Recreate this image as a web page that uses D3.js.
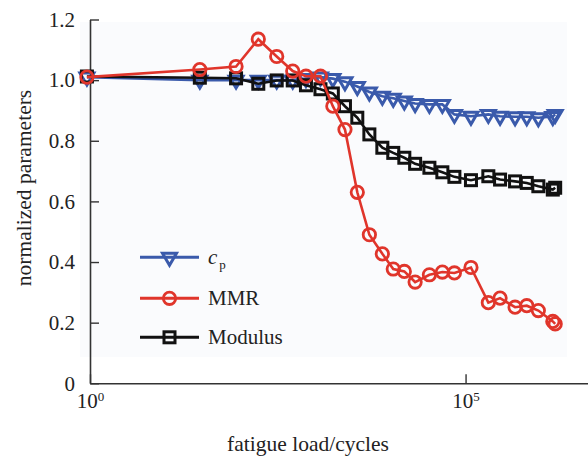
<!DOCTYPE html>
<html>
<head>
<meta charset="utf-8">
<script src="https://cdn.jsdelivr.net/npm/d3@7"></script>
<style>
  body { margin: 0; background: #fff; }
  svg { font-family: "Liberation Serif", "Times New Roman", serif; }
</style>
</head>
<body>
<div id="chart"></div>
<script>
// data (cycles, normalized values)
let cycles = [0.91, 29, 88, 174, 306, 500, 750, 1170, 1710, 2480, 3620, 5240, 7800, 10900,
    15300, 21300, 33000, 49100, 71000, 118000, 201000, 288000, 456000, 653000, 931000, 1450000, 1560000];
let cpValues = [1.01, 1.0, 1.0, 1.0, 1.0, 1.0, 1.005, 1.01, 1.005, 0.995, 0.979, 0.961, 0.947, 0.94,
    0.931, 0.923, 0.92, 0.92, 0.887, 0.881, 0.887, 0.881, 0.879, 0.879, 0.876, 0.88, 0.887];
let mmrValues = [1.01, 1.035, 1.045, 1.135, 1.078, 1.03, 1.013, 1.013, 0.914, 0.837, 0.63, 0.49, 0.427, 0.377,
    0.369, 0.334, 0.358, 0.367, 0.364, 0.382, 0.266, 0.281, 0.251, 0.256, 0.24, 0.204, 0.196];
let modulusValues = [1.012, 1.008, 1.006, 0.988, 0.999, 0.999, 0.983, 0.97, 0.956, 0.914, 0.876, 0.821, 0.777, 0.76,
    0.744, 0.724, 0.711, 0.696, 0.681, 0.67, 0.683, 0.672, 0.666, 0.661, 0.65, 0.639, 0.645];
let yTicks = [0, 0.2, 0.4, 0.6, 0.8, 1.0, 1.2];
let xTicks = [1, 1e5];
let xTickExp = ["0", "5"];
let seriesNames = ["cp", "MMR", "Modulus"];

let width = 588, height = 459;
let colors = {cp: "#3a5aab", MMR: "#e0352b", Modulus: "#111111"};

let svg = d3.select("#chart").append("svg")
    .attr("width", width)
    .attr("height", height);

let x = d3.scaleLog()
    .domain([1, Math.pow(10, 6.63)])
    .range([90, 588]);

let y = d3.scaleLinear()
    .domain([0, 1.2])
    .range([383.3, 19.5]);

// faint plot panel
svg.append("rect")
    .attr("x", 80).attr("y", 22)
    .attr("width", 487).attr("height", 335)
    .attr("fill", "#fafbfd");

// axes
let yAxis = svg.append("g")
    .attr("transform", "translate(" + x(1) + ",0)")
    .call(d3.axisLeft(y)
        .tickValues(yTicks)
        .tickSizeInner(-9)
        .tickSizeOuter(0)
        .tickPadding(15)
        .tickFormat(d => d === 0 ? "0" : d3.format(".1f")(d)));

let xAxis = svg.append("g")
    .attr("transform", "translate(0," + y(0) + ")")
    .call(d3.axisBottom(x)
        .tickValues(xTicks)
        .tickSizeInner(-9)
        .tickSizeOuter(0)
        .tickFormat(""));

[yAxis, xAxis].forEach(function(g) {
    g.select(".domain").attr("stroke", "#333").attr("stroke-width", 1.6);
    g.selectAll(".tick line").attr("stroke", "#333").attr("stroke-width", 1.4);
});
yAxis.selectAll(".tick text")
    .attr("font-size", 21)
    .attr("fill", "#222")
    .attr("font-family", "Liberation Serif, serif");

// x tick labels as 10 with superscript exponent
xAxis.selectAll(".tick").each(function(d, i) {
    let t = d3.select(this).append("text")
        .attr("y", 25)
        .attr("dy", 0)
        .attr("fill", "#222")
        .attr("text-anchor", "middle")
        .attr("font-family", "Liberation Serif, serif")
        .attr("font-size", 21);
    t.append("tspan").text("10");
    t.append("tspan").attr("font-size", 13).attr("dy", -7).text(xTickExp[i]);
});

// axis titles
svg.append("text")
    .attr("transform", "translate(31,188) rotate(-90)")
    .attr("text-anchor", "middle")
    .attr("font-size", 21.5)
    .attr("fill", "#222")
    .text("normalized parameters");

svg.append("text")
    .attr("x", 308).attr("y", 451)
    .attr("text-anchor", "middle")
    .attr("font-size", 21.5)
    .attr("fill", "#222")
    .text("fatigue load/cycles");

// marker helpers
function drawMarker(g, name, cx, cy) {
    if (name === "cp") {
        g.append("path")
            .attr("d", "M-7,-4L7,-4L0,8Z")
            .attr("transform", "translate(" + cx + "," + cy + ")")
            .attr("fill", "none")
            .attr("stroke", colors.cp)
            .attr("stroke-width", 3)
            .attr("stroke-linejoin", "miter");
    } else if (name === "MMR") {
        g.append("circle")
            .attr("cx", cx).attr("cy", cy).attr("r", 6.2)
            .attr("fill", "none")
            .attr("stroke", colors.MMR)
            .attr("stroke-width", 2.8);
    } else {
        g.append("rect")
            .attr("x", cx - 5.5).attr("y", cy - 5.5)
            .attr("width", 11).attr("height", 11)
            .attr("fill", "none")
            .attr("stroke", colors.Modulus)
            .attr("stroke-width", 3);
    }
}

let line = d3.line()
    .x(d => x(d[0]))
    .y(d => y(d[1]));

let seriesData = {
    cp: cycles.map((c, i) => [c, cpValues[i]]),
    MMR: cycles.map((c, i) => [c, mmrValues[i]]),
    Modulus: cycles.map((c, i) => [c, modulusValues[i]])
};

// draw order: cp, Modulus, MMR
["cp", "Modulus", "MMR"].forEach(function(name) {
    let g = svg.append("g").attr("class", "series-" + name);
    g.append("path")
        .datum(seriesData[name])
        .attr("d", line)
        .attr("fill", "none")
        .attr("stroke", colors[name])
        .attr("stroke-width", 2.6);
    seriesData[name].forEach(function(d) {
        drawMarker(g, name, x(d[0]), y(d[1]));
    });
});

// legend
let legendY = [257.3, 298.3, 337.3];
let legend = svg.append("g").attr("class", "legend");
seriesNames.forEach(function(name, i) {
    legend.append("line")
        .attr("x1", 140).attr("x2", 199)
        .attr("y1", legendY[i]).attr("y2", legendY[i])
        .attr("stroke", colors[name])
        .attr("stroke-width", 3);
    drawMarker(legend, name, 169.5, legendY[i]);
    let t = legend.append("text")
        .attr("x", 208)
        .attr("y", legendY[i] + 7)
        .attr("font-size", 21)
        .attr("fill", "#222");
    if (name === "cp") {
        t.append("tspan").attr("font-style", "italic").text("c");
        t.append("tspan").attr("font-size", 13).attr("dx", 2).attr("dy", 5).text("p");
    } else {
        t.text(name);
    }
});
</script>
</body>
</html>
